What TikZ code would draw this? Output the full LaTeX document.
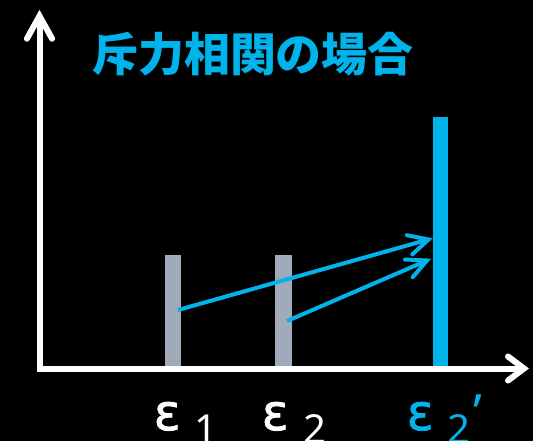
\documentclass[tikz,border=0pt]{standalone}
\usepackage{fontspec}
\newfontfamily\jpfont{Noto Sans CJK JP}
\newfontfamily\labfont{Noto Sans}
\newfontfamily\epsfont[FakeBold=1.6]{DejaVu Sans}
\usetikzlibrary{calc}
\definecolor{sky}{RGB}{0,180,235}
\definecolor{slate}{RGB}{160,170,186}

\begin{document}
\begin{tikzpicture}[x=1pt, y=-1pt,
    axis/.style={draw=white, line width=6pt, line join=miter},
    head/.style={line cap=round, line join=miter},
    bar/.style={fill=slate, inner sep=0pt, minimum width=16pt, minimum height=111pt},
    shiftarrow/.style={draw=sky, line width=4pt},
    lab/.style={inner sep=0pt, anchor=base west, text=white, font=\epsfont\fontsize{50}{50}\selectfont}]
    \useasboundingbox (0,0) rectangle (533,441);
    \fill[black] (0,0) rectangle (533,441);

    % axes
    \coordinate (o) at (39.5,368.5);
    \coordinate (ytip) at (39.5,16);
    \coordinate (xtip) at (524,368.5);
    \draw[axis] (ytip) -- (o) -- (xtip);
    \draw[axis, head] ($(ytip)!26pt!29:(o)$) -- (ytip) -- ($(ytip)!26pt!-29:(o)$);
    \draw[axis, head] ($(xtip)!20pt!37:(o)$) -- (xtip) -- ($(xtip)!20pt!-37:(o)$);

    \node[inner sep=0pt, text=sky, font=\jpfont\bfseries\fontsize{46}{46}\selectfont] (ttl) at (253,54) {斥力相関の場合};

    % levels
    \node[bar] (b1) at (173,310.5) {};
    \node[bar, minimum width=17pt] (b2) at (283.5,310.5) {};
    \node[bar, fill=sky, minimum width=15pt, minimum height=249pt] (b3) at (440,241.5) {};

    % shifts
    \coordinate (s1) at (178,310);
    \coordinate (t1) at (428.5,239.5);
    \coordinate (s2) at (287,321);
    \coordinate (t2) at (427,260.5);
    \draw[shiftarrow] (s1) -- (t1);
    \draw[shiftarrow, head] ($(t1)!22pt!27:(s1)$) -- (t1) -- ($(t1)!22pt!-27:(s1)$);
    \draw[shiftarrow] (s2) -- (t2);
    \draw[shiftarrow, head] ($(t2)!22pt!26:(s2)$) -- (t2) -- ($(t2)!22pt!-26:(s2)$);

    % labels
    \node[lab] (l1) at (153.5,430) {ε\hspace{14pt}\raisebox{-13pt}{\labfont\fontsize{40}{40}\selectfont 1}};
    \node[lab] (l2) at (261.5,430) {ε\hspace{15pt}\raisebox{-13pt}{\labfont\fontsize{40}{40}\selectfont 2}};
    \node[lab, text=sky] (l3) at (406.5,430) {ε\hspace{14pt}\raisebox{-13pt}{\labfont\fontsize{40}{40}\selectfont 2}\hspace{3pt}{\labfont’}};
\end{tikzpicture}
\end{document}
